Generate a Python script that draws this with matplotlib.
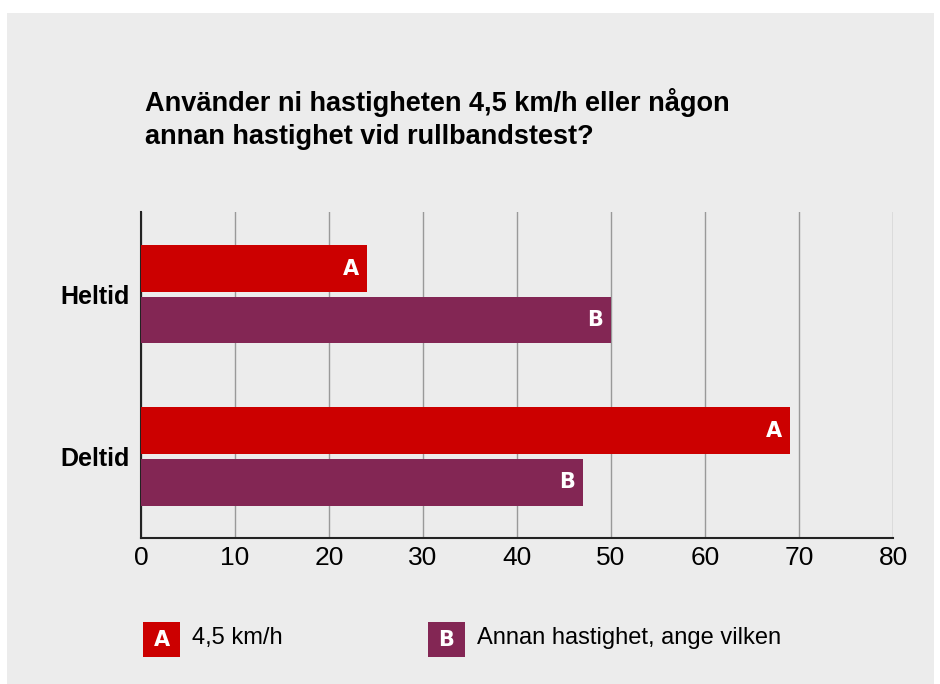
import matplotlib
matplotlib.use("Agg")
import matplotlib.pyplot as plt
from matplotlib.patches import Rectangle

categories = ["Heltid", "Deltid"]
series_names = ["4,5 km/h", "Annan hastighet, ange vilken"]
series_letters = ["A", "B"]
values_a = [24, 69]
values_b = [50, 47]
xticks = [0, 10, 20, 30, 40, 50, 60, 70, 80]
title = "Använder ni hastigheten 4,5 km/h eller någon\nannan hastighet vid rullbandstest?"

RED = "#CC0000"
PURPLE = "#832654"
BG = "#ECECEC"
W, H = 940, 684

fig = plt.figure(figsize=(W / 100, H / 100), dpi=100)
fig.patch.set_facecolor("white")
fig.patches.append(Rectangle((7 / W, 0), (934 - 7) / W, (H - 13) / H,
                             transform=fig.transFigure, facecolor=BG,
                             edgecolor="none", zorder=-10))

ax = fig.add_axes([141 / W, 1 - 538 / H, (893 - 141) / W, (538 - 212) / H])
ax.set_facecolor(BG)
ax.set_zorder(1)

bh = 0.285
off = 0.16
ypos = list(range(len(categories)))
colors = [RED, PURPLE]
for si, vals in enumerate([values_a, values_b]):
    ys = [y + (-off if si == 0 else off) for y in ypos]
    ax.barh(ys, vals, height=bh, color=colors[si], zorder=3)
    for y, v in zip(ys, vals):
        ax.text(v - 1.7, y, series_letters[si], color="white", ha="center",
                va="center", fontsize=15, fontweight="bold",
                family="DejaVu Sans", zorder=4)

ax.set_xlim(0, 80)
ax.set_ylim(1.503, -0.509)
ax.set_xticks(xticks)
ax.set_xticklabels([str(t) for t in xticks], fontsize=19, family="Liberation Sans")
ax.set_yticks(ypos)
ax.set_yticklabels(categories, fontsize=18, fontweight="bold", family="Liberation Sans")
ax.tick_params(axis="x", length=0, pad=6)
ax.tick_params(axis="y", length=0, pad=8)
ax.xaxis.grid(True, color="#999999", linewidth=1, zorder=1)
ax.set_axisbelow(True)
for s in ["top", "right"]:
    ax.spines[s].set_visible(False)
ax.spines["left"].set_color("#222222")
ax.spines["left"].set_linewidth(1.5)
ax.spines["bottom"].set_color("#222222")
ax.spines["bottom"].set_linewidth(1.5)

fig.text(145 / W, 1 - 119 / H, title, fontsize=19.5, fontweight="bold",
         family="Liberation Sans", ha="left", va="center", linespacing=1.35)

# legend
leg_x = [143, 428]
for i in range(2):
    x0 = leg_x[i]
    fig.patches.append(Rectangle((x0 / W, 1 - 657 / H), 37 / W, 35 / H,
                                 transform=fig.transFigure, facecolor=colors[i],
                                 edgecolor="none", zorder=2))
    fig.text((x0 + 18.5) / W, 1 - 639.5 / H, series_letters[i], color="white",
             fontsize=15, fontweight="bold", ha="center", va="center",
             family="DejaVu Sans")
    fig.text((x0 + 49) / W, 1 - 638 / H, series_names[i], fontsize=17,
             family="Liberation Sans", ha="left", va="center")

fig.savefig("out.png", dpi=100, facecolor="white")
